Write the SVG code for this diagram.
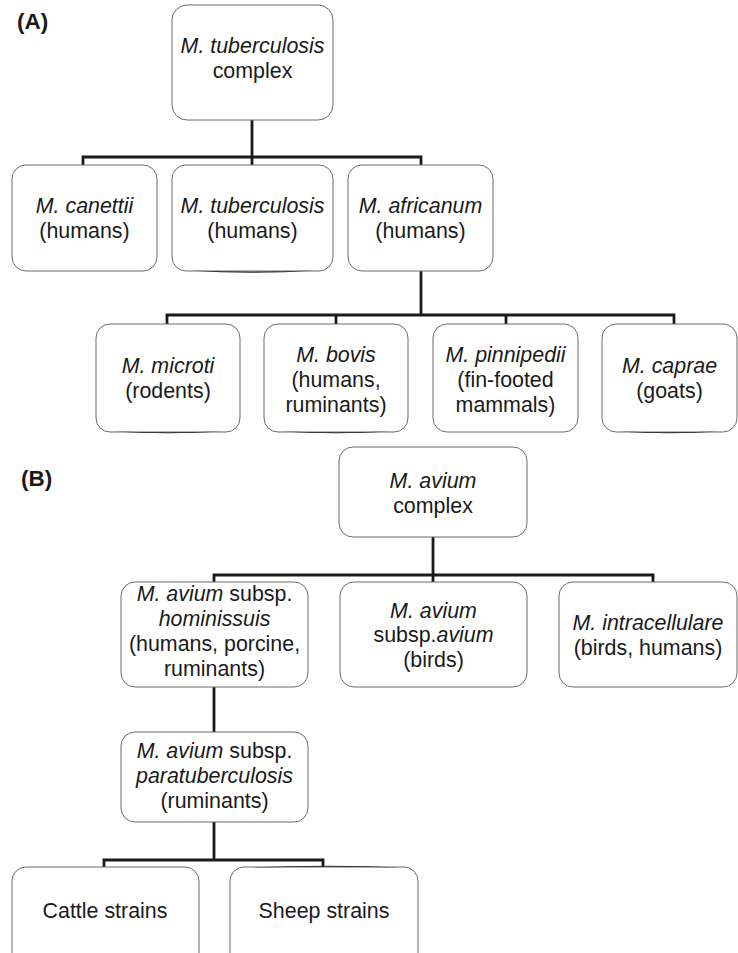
<svg xmlns="http://www.w3.org/2000/svg" width="738" height="953" viewBox="0 0 738 953">
<style>
.box{fill:#fff;stroke:#6b6b6b;stroke-width:1}
.sh{fill:#222;stroke:none}
text{font-family:"Liberation Sans",Arial,Helvetica,sans-serif;font-size:21.4px;fill:#1a1a1a;text-anchor:middle}
.i{font-style:italic}
.lab{font-weight:bold;text-anchor:start;font-size:22.5px}
.conn{fill:none;stroke:#1a1a1a;stroke-width:2.8;stroke-linejoin:miter;stroke-linecap:square}
</style>
<rect width="738" height="953" fill="#fff"/>
<text class="lab" x="17" y="29">(A)</text>
<text class="lab" x="21" y="486">(B)</text>
<g id="connectors">
<path class="conn" d="M252,121V157M83,165V157H421V165M252,157V165"/>
<path class="conn" d="M421,271V315M167,323V315H674V323M336,315V323M506,315V323"/>
<path class="conn" d="M433,538V575M214,582V575H653V582M433,575V582"/>
<path class="conn" d="M214,688V731"/>
<path class="conn" d="M214,823V860M104,867V860H323V867"/>
</g>
<g id="mtb-complex">
<rect class="box" x="172" y="5" width="161" height="115" rx="15"/>
<text x="252.5" y="53"><tspan class="i">M. tuberculosis</tspan></text>
<text x="252.5" y="78">complex</text>
</g>
<g id="canettii">
<rect class="box" x="12" y="165" width="145" height="106" rx="14"/>
<text x="84.5" y="213" class="i">M. canettii</text>
<text x="84.5" y="238">(humans)</text>
</g>
<g id="tuberculosis">
<rect class="box" x="172" y="165" width="161" height="106" rx="14"/>
<path class="sh" d="M190,270.5Q252,275 315,270.5Q252,272.5 190,270.5Z"/>
<text x="252.5" y="213" class="i">M. tuberculosis</text>
<text x="252.5" y="238">(humans)</text>
</g>
<g id="africanum">
<rect class="box" x="348" y="165" width="145" height="106" rx="14"/>
<text x="420.5" y="213" class="i">M. africanum</text>
<text x="420.5" y="238">(humans)</text>
</g>
<g id="microti">
<rect class="box" x="96" y="324" width="144" height="108" rx="14"/>
<path class="sh" d="M112,431.5Q168,435 224,431.5Q168,433 112,431.5Z"/>
<text x="168" y="373" class="i">M. microti</text>
<text x="168" y="398">(rodents)</text>
</g>
<g id="bovis">
<rect class="box" x="264" y="324" width="144" height="108" rx="14"/>
<path class="sh" d="M280,431.5Q336,435 392,431.5Q336,433 280,431.5Z"/>
<text x="336" y="362" class="i">M. bovis</text>
<text x="336" y="387">(humans,</text>
<text x="336" y="412">ruminants)</text>
</g>
<g id="pinnipedii">
<rect class="box" x="433" y="324" width="145" height="108" rx="14"/>
<text x="505.5" y="362" class="i">M. pinnipedii</text>
<text x="505.5" y="387">(fin-footed</text>
<text x="505.5" y="412">mammals)</text>
</g>
<g id="caprae">
<rect class="box" x="602" y="324" width="135" height="108" rx="14"/>
<path class="sh" d="M618,431.5Q669,435 721,431.5Q669,433 618,431.5Z"/>
<text x="669.5" y="373" class="i">M. caprae</text>
<text x="669.5" y="398">(goats)</text>
</g>
<g id="avium-complex">
<rect class="box" x="339" y="447" width="188" height="90" rx="14"/>
<text x="433" y="488" class="i">M. avium</text>
<text x="433" y="513">complex</text>
</g>
<g id="hominissuis">
<rect class="box" x="121" y="582" width="187" height="105" rx="14"/>
<text x="214.5" y="601"><tspan class="i">M. avium</tspan> subsp.</text>
<text x="214.5" y="626" class="i">hominissuis</text>
<text x="214.5" y="651">(humans, porcine,</text>
<text x="214.5" y="676">ruminants)</text>
</g>
<g id="avium-avium">
<rect class="box" x="340" y="582" width="187" height="105" rx="14"/>
<text x="433.5" y="618" class="i">M. avium</text>
<text x="433.5" y="642">subsp.<tspan class="i">avium</tspan></text>
<text x="433.5" y="667">(birds)</text>
</g>
<g id="intracellulare">
<rect class="box" x="559" y="582" width="178" height="105" rx="14"/>
<text x="648" y="630" class="i">M. intracellulare</text>
<text x="648" y="655">(birds, humans)</text>
</g>
<g id="paratuberculosis">
<rect class="box" x="121" y="732" width="187" height="90" rx="14"/>
<text x="214.5" y="758"><tspan class="i">M. avium</tspan> subsp.</text>
<text x="214.5" y="783" class="i">paratuberculosis</text>
<text x="214.5" y="808">(ruminants)</text>
</g>
<g id="cattle">
<rect class="box" x="12" y="867" width="187" height="110" rx="14"/>
<text x="105" y="918">Cattle strains</text>
</g>
<g id="sheep">
<rect class="box" x="230" y="867" width="188" height="110" rx="14"/>
<path class="sh" d="M250,867.5Q330,864 402,867.5Q330,866 250,867.5Z"/>
<text x="324" y="918">Sheep strains</text>
</g>
</svg>
